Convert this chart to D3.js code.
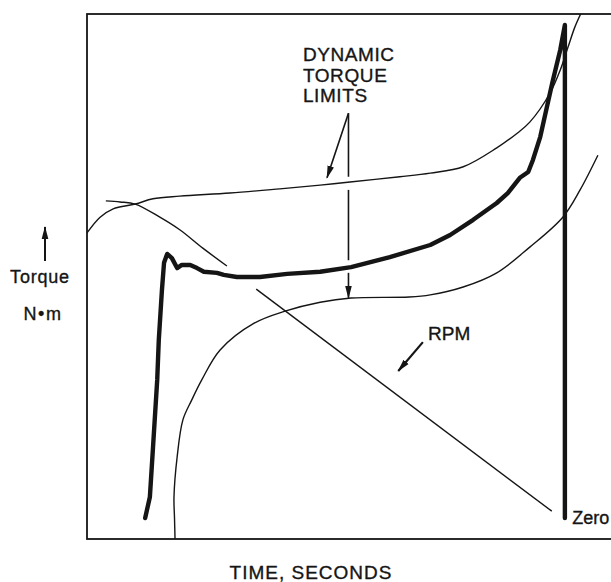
<!DOCTYPE html>
<html><head><meta charset="utf-8">
<script src="https://cdn.jsdelivr.net/npm/d3@7/dist/d3.min.js"></script>
<style>html,body{margin:0;padding:0;background:#fff;} svg{display:block;} text{stroke:#151515;stroke-width:0.35px;}</style>
</head><body>
<svg id="chart" width="611" height="582"></svg>
<script>
// ---- data (time in s, torque in %) ----
const timeDomain = [0, 10];
const torqueDomain = [0, 100];

const upperLimit = [[0,58.3],[0.25,61.3],[0.5,62.9],[0.92,63.8],[1.26,64.8],[1.77,65.3],[2.73,65.9],[3.68,66.7],[4.45,67.4],[5.02,68.0],[5.97,69.0],[6.55,69.7],[7.18,70.9],[7.82,74.5],[8.21,77.3],[8.45,79.4],[8.84,85.0],[9.03,89.3],[9.18,93.7],[9.31,97.5],[9.43,100.2]];
const upperLimitStart = [[0.36,64.4],[0.63,64.2],[0.92,63.8],[1.39,61.3],[1.77,58.9],[2.21,55.4],[2.67,52.0]];
const lowerLimit = [[1.68,0],[1.67,4.0],[1.66,8.0],[1.72,15.6],[1.83,22.7],[2.0,26.5],[2.19,30.3],[2.54,36.0],[3.19,41.1],[3.78,43.4],[4.45,45.1],[5.04,45.9],[6.15,46.1],[6.55,46.5],[7.18,48.0],[7.82,50.7],[8.45,55.6],[9.08,61.3],[9.41,66.5],[9.75,73.1]];
const measuredTorque = [[1.11,4.0],[1.2,8.0],[1.26,17.5],[1.34,30.3],[1.37,37.9],[1.43,47.4],[1.47,52.6],[1.53,54.3],[1.62,53.5],[1.72,51.6],[1.81,52.2],[1.97,52.2],[2.1,51.6],[2.23,50.9],[2.48,50.7],[2.61,50.3],[2.86,49.9],[3.3,49.9],[3.82,50.5],[4.45,50.9],[5.04,51.8],[5.78,53.7],[6.55,56.0],[6.93,57.9],[7.37,60.8],[7.82,64.0],[8.03,65.9],[8.26,68.8],[8.42,69.9],[8.51,72.2],[8.65,76.6],[8.88,86.9],[9.03,93.1],[9.12,97.9],[9.12,4.0]];
const rpm = [[3.23,47.6],[8.87,5.3]];

const limitsLabel = ["DYNAMIC", "TORQUE", "LIMITS"];
const limitsLabelPos = [4.12, [91.0, 87.1, 83.2]];
const limitsArrowDiag = [[4.99,81.1],[4.58,68.8]];
const limitsArrowVert = [[[4.99,81.1],[4.99,69.0]],[[4.99,66.5],[4.99,53.1]],[[4.99,50.7],[4.99,45.9]]];
const rpmLabel = ["RPM", 6.51, 37.9];
const rpmArrow = [[6.41,37.5],[5.94,32.0]];
const zeroLabel = ["Zero", 9.26, 2.9];
const xTitle = "TIME, SECONDS";
const yTitle = ["Torque", "N\u2022m"];

// ---- drawing ----
const svg = d3.select("#chart");
const ink = "#151515";
const font = "'Liberation Sans', Arial, Helvetica, sans-serif";
const x = d3.scaleLinear().domain(timeDomain).range([87, 611]);
const y = d3.scaleLinear().domain(torqueDomain).range([539, 14]);

const defs = svg.append("defs");
defs.append("clipPath").attr("id","plot").append("rect")
  .attr("x", x(0)).attr("y", y(100)).attr("width", 700).attr("height", y(0)-y(100));
defs.append("marker").attr("id","ah").attr("viewBox","0 -4 13 8")
  .attr("refX",12).attr("refY",0).attr("markerWidth",13).attr("markerHeight",8)
  .attr("markerUnits","userSpaceOnUse").attr("orient","auto")
  .append("path").attr("d","M0,-3.3L13,0L0,3.3Z").attr("fill",ink);

svg.append("rect").attr("width",611).attr("height",582).attr("fill","#fff");

// frame
svg.append("rect").attr("x", x(0)).attr("y", y(100)).attr("width", 700).attr("height", y(0)-y(100))
  .attr("fill","none").attr("stroke",ink).attr("stroke-width",1.8);

const g = svg.append("g").attr("clip-path","url(#plot)");
const smooth = d3.line().x(d=>x(d[0])).y(d=>y(d[1])).curve(d3.curveCatmullRom.alpha(0.5));
const straight = d3.line().x(d=>x(d[0])).y(d=>y(d[1]));

[upperLimit, upperLimitStart, lowerLimit].forEach(s => {
  g.append("path").attr("d", smooth(s)).attr("fill","none").attr("stroke",ink).attr("stroke-width",1.4);
});
g.append("path").attr("d", straight(rpm)).attr("fill","none").attr("stroke",ink).attr("stroke-width",1.4);
g.append("path").attr("d", straight(measuredTorque)).attr("fill","none").attr("stroke",ink)
  .attr("stroke-width",4.4).attr("stroke-linejoin","round").attr("stroke-linecap","round");

// annotations
const lbl = svg.append("text").attr("font-family",font).attr("font-size",19).attr("fill",ink)
  .attr("letter-spacing",0.6);
limitsLabel.forEach((t,i)=>{
  lbl.append("tspan").attr("x", x(limitsLabelPos[0])).attr("y", y(limitsLabelPos[1][i])).text(t);
});
svg.append("path").attr("d", straight(limitsArrowDiag)).attr("stroke",ink).attr("stroke-width",1.6)
  .attr("fill","none").attr("marker-end","url(#ah)");
limitsArrowVert.forEach((seg,i)=>{
  const p = svg.append("path").attr("d", straight(seg)).attr("stroke",ink).attr("stroke-width",1.6).attr("fill","none");
  if (i === limitsArrowVert.length-1) p.attr("marker-end","url(#ah)");
});
svg.append("text").attr("x", x(rpmLabel[1])).attr("y", y(rpmLabel[2])).attr("font-family",font)
  .attr("font-size",19).attr("fill",ink).text(rpmLabel[0]);
svg.append("path").attr("d", straight(rpmArrow)).attr("stroke",ink).attr("stroke-width",2.2)
  .attr("fill","none").attr("marker-end","url(#ah)");
svg.append("text").attr("x", x(zeroLabel[1])).attr("y", y(zeroLabel[2])).attr("font-family",font)
  .attr("font-size",18).attr("fill",ink).text(zeroLabel[0]);

// axis titles
svg.append("text").attr("x", 311).attr("y", 579).attr("text-anchor","middle").attr("font-family",font)
  .attr("font-size",19).attr("letter-spacing",1).attr("fill",ink).text(xTitle);
svg.append("path").attr("d","M45,261L45,227").attr("stroke",ink).attr("stroke-width",2).attr("marker-end","url(#ah)");
svg.append("text").attr("x", 40).attr("y", 283).attr("text-anchor","middle").attr("font-family",font)
  .attr("font-size",18).attr("letter-spacing",0.8).attr("fill",ink).text(yTitle[0]);
svg.append("text").attr("x", 43).attr("y", 320).attr("text-anchor","middle").attr("font-family",font)
  .attr("font-size",18).attr("letter-spacing",1.5).attr("fill",ink).text(yTitle[1]);
</script>
</body></html>
